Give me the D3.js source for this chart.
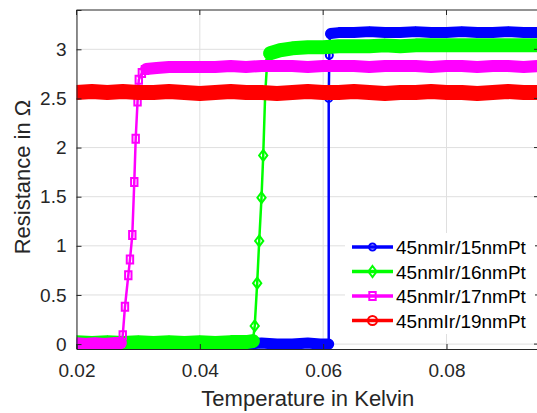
<!DOCTYPE html>
<html>
<head>
<meta charset="utf-8">
<script src="https://cdn.jsdelivr.net/npm/d3@7"></script>
<style>
  html, body { margin: 0; padding: 0; background: #fff; }
  svg { display: block; font-family: "Liberation Sans", Arial, Helvetica, sans-serif; }
</style>
</head>
<body>
<svg id="chart" width="537" height="413"></svg>
<script>
// Axis ticks
const tempTicks = [0.02, 0.04, 0.06, 0.08];
const resTicks = [0, 0.5, 1, 1.5, 2, 2.5, 3];

// Sample names (legend order)
const sampleNames = ["45nmIr/15nmPt", "45nmIr/16nmPt", "45nmIr/17nmPt", "45nmIr/19nmPt"];

// 45nmIr/15nmPt : superconducting branch, transition, normal branch  [T (K), R (Ohm)]
const ir15Low = [[0.020,0.00],[0.0225,0.01],[0.025,0.00],[0.0275,0.01],[0.030,0.00],[0.0325,0.00],[0.035,0.01],
  [0.0375,0.00],[0.040,0.00],[0.0425,0.01],[0.045,0.00],[0.0475,0.00],[0.050,0.01],[0.0525,0.00],[0.055,0.00],
  [0.0575,0.01],[0.0595,0.00],[0.0609,0.00]];
const ir15Rise = [[0.0609,0.00],[0.0609,2.50],[0.0610,2.94],[0.0611,3.15]];
const ir15High = [[0.0612,3.16],[0.0625,3.17],[0.065,3.17],[0.0675,3.18],[0.070,3.17],[0.0725,3.17],[0.075,3.18],
  [0.0775,3.17],[0.080,3.17],[0.0825,3.18],[0.085,3.17],[0.0875,3.17],[0.090,3.18],[0.0925,3.17],[0.095,3.17]];

// 45nmIr/16nmPt
const ir16Low = [[0.020,0.02],[0.0225,0.01],[0.025,0.02],[0.0275,0.01],[0.030,0.02],[0.0325,0.01],[0.035,0.02],
  [0.0375,0.01],[0.040,0.02],[0.0425,0.01],[0.045,0.02],[0.0475,0.02],[0.0486,0.03]];
const ir16Rise = [[0.0486,0.03],[0.0489,0.185],[0.0493,0.62],[0.04963,1.05],[0.0500,1.49],[0.05028,1.92],
  [0.0506,2.55],[0.0509,2.85],[0.0512,2.94]];
const ir16High = [[0.0514,2.96],[0.053,2.99],[0.055,3.01],[0.0575,3.02],[0.060,3.02],[0.0625,3.03],[0.065,3.03],
  [0.0675,3.03],[0.070,3.04],[0.0725,3.03],[0.075,3.04],[0.0775,3.04],[0.080,3.04],[0.0825,3.04],[0.085,3.04],
  [0.0875,3.04],[0.090,3.04],[0.0925,3.04],[0.095,3.04]];

// 45nmIr/17nmPt
const ir17Low = [[0.020,0.01],[0.0215,0.00],[0.023,0.01],[0.0245,0.00],[0.026,0.01],[0.0272,0.01]];
const ir17Rise = [[0.0272,0.01],[0.0275,0.09],[0.02786,0.38],[0.0284,0.70],[0.02867,0.86],[0.02905,1.11],
  [0.02937,1.65],[0.0296,2.09],[0.0299,2.47],[0.0301,2.69],[0.0306,2.76],[0.0311,2.79]];
const ir17High = [[0.0313,2.80],[0.033,2.81],[0.035,2.82],[0.0375,2.82],[0.040,2.82],[0.0425,2.82],[0.045,2.83],
  [0.0475,2.82],[0.050,2.83],[0.0525,2.83],[0.055,2.83],[0.0575,2.82],[0.060,2.83],[0.0625,2.83],[0.065,2.83],
  [0.0675,2.82],[0.070,2.83],[0.0725,2.83],[0.075,2.83],[0.0775,2.82],[0.080,2.83],[0.0825,2.83],[0.085,2.82],
  [0.0875,2.83],[0.090,2.83],[0.0925,2.82],[0.095,2.83]];

// 45nmIr/19nmPt : stays normal over the whole range
const ir19Low = [];
const ir19Rise = [];
const ir19High = [[0.020,2.56],[0.0225,2.57],[0.025,2.56],[0.0275,2.57],[0.030,2.56],[0.0325,2.56],[0.035,2.57],
  [0.0375,2.56],[0.040,2.55],[0.0425,2.56],[0.045,2.57],[0.0475,2.56],[0.050,2.56],[0.0525,2.55],[0.055,2.56],
  [0.0575,2.57],[0.060,2.56],[0.0625,2.56],[0.065,2.57],[0.0675,2.56],[0.070,2.55],[0.0725,2.56],[0.075,2.56],
  [0.0775,2.57],[0.080,2.56],[0.0825,2.56],[0.085,2.55],[0.0875,2.56],[0.090,2.57],[0.0925,2.56],[0.095,2.56]];

const colors = ["#0000ff", "#00ff00", "#ff00ff", "#ff0000"];
const markers = ["circle", "diamond", "square", "circle"];
const bandWidth = [11, 14, 12, 15];
const markerSize = [7, 11, 8, 9];

const series = [
  { low: ir15Low, rise: ir15Rise, high: ir15High },
  { low: ir16Low, rise: ir16Rise, high: ir16High },
  { low: ir17Low, rise: ir17Rise, high: ir17High },
  { low: ir19Low, rise: ir19Rise, high: ir19High }
].map((s, i) => ({ ...s, name: sampleNames[i], color: colors[i], marker: markers[i],
                   band: bandWidth[i], msize: markerSize[i] }));

const svg = d3.select("#chart");
const margin = { left: 76.5, top: 10, right: 539, bottom: 349 };

const x = d3.scaleLinear().domain([0.02, 0.095]).range([margin.left, margin.right]);
const y = d3.scaleLinear().domain([-0.05, 3.4]).range([margin.bottom, margin.top]);

const axisColor = "#262626";
const gridColor = "#dfdfdf";

const defs = svg.append("defs");
defs.append("clipPath").attr("id", "plotClip")
  .append("rect").attr("x", margin.left).attr("y", margin.top)
  .attr("width", margin.right - margin.left).attr("height", margin.bottom - margin.top);

// grid
const grid = svg.append("g");
grid.selectAll("line.gx").data(tempTicks).join("line")
  .attr("x1", d => x(d)).attr("x2", d => x(d))
  .attr("y1", margin.top).attr("y2", margin.bottom)
  .attr("stroke", gridColor).attr("stroke-width", 1);
grid.selectAll("line.gy").data(resTicks).join("line")
  .attr("x1", margin.left).attr("x2", margin.right)
  .attr("y1", d => y(d)).attr("y2", d => y(d))
  .attr("stroke", gridColor).attr("stroke-width", 1);

// marker shapes
function markerPath(type, size) {
  const h = size / 2;
  if (type === "diamond") return `M0,${-h}L${h * 0.75},0L0,${h}L${-h * 0.75},0Z`;
  if (type === "square") return `M${-h * 0.8},${-h}H${h * 0.8}V${h}H${-h * 0.8}Z`;
  return d3.arc()({ innerRadius: 0, outerRadius: h, startAngle: 0, endAngle: 2 * Math.PI });
}

const line = d3.line().x(d => x(d[0])).y(d => y(d[1]));
const plot = svg.append("g").attr("clip-path", "url(#plotClip)");

series.forEach(s => {
  const g = plot.append("g");
  // densely sampled branches form a thick band
  [s.low, s.high].filter(a => a.length).forEach(arr => {
    g.append("path").attr("d", line(arr))
      .attr("fill", "none").attr("stroke", s.color)
      .attr("stroke-width", s.band).attr("stroke-linejoin", "round").attr("stroke-linecap", "round");
  });
  // transition
  if (s.rise.length) {
    g.append("path").attr("d", line(s.rise))
      .attr("fill", "none").attr("stroke", s.color).attr("stroke-width", 2.5)
      .attr("stroke-linejoin", "round");
    g.selectAll("path.mk").data(s.rise).join("path")
      .attr("transform", d => `translate(${x(d[0])},${y(d[1])})`)
      .attr("d", markerPath(s.marker, s.msize))
      .attr("fill", "none").attr("stroke", s.color).attr("stroke-width", 2);
  }
});

// axes box with inward ticks
const xAxis = d3.axisBottom(x).tickValues(tempTicks).tickSize(-5).tickPadding(15)
  .tickFormat(d3.format(".2f"));
const yAxis = d3.axisLeft(y).tickValues(resTicks).tickSize(-5).tickPadding(10)
  .tickFormat(d => d3.format("")(d));

const gx = svg.append("g").attr("transform", `translate(0,${margin.bottom})`).call(xAxis);
const gy = svg.append("g").attr("transform", `translate(${margin.left},0)`).call(yAxis);
[gx, gy].forEach(g => {
  g.select(".domain").attr("stroke", axisColor).attr("stroke-width", 1);
  g.selectAll(".tick line").attr("stroke", axisColor);
  g.selectAll(".tick text").attr("fill", axisColor).style("font-size", "19px")
    .style("font-family", "'Liberation Sans', Arial, sans-serif");
});
// top and right edges
svg.append("line").attr("x1", margin.left).attr("x2", margin.right)
  .attr("y1", margin.top).attr("y2", margin.top).attr("stroke", axisColor);
svg.selectAll("line.tt").data(tempTicks).join("line")
  .attr("x1", d => x(d)).attr("x2", d => x(d)).attr("y1", margin.top).attr("y2", margin.top + 5)
  .attr("stroke", axisColor);
svg.selectAll("line.rt").data(resTicks).join("line")
  .attr("x1", margin.right - 5).attr("x2", margin.right).attr("y1", d => y(d)).attr("y2", d => y(d))
  .attr("stroke", axisColor);

// axis titles
svg.append("text").attr("x", x(0.0575)).attr("y", 406)
  .attr("text-anchor", "middle").attr("fill", axisColor).style("font-size", "22px")
  .text("Temperature in Kelvin");
svg.append("text").attr("transform", `translate(30,${y(1.7)}) rotate(-90)`)
  .attr("text-anchor", "middle").attr("fill", axisColor).style("font-size", "22px")
  .text("Resistance in Ω");

// legend
const legend = svg.append("g").attr("transform", "translate(345,233)");
legend.append("rect").attr("x", 0).attr("y", 0).attr("width", 190).attr("height", 101).attr("fill", "#fff");
series.forEach((s, i) => {
  const row = legend.append("g").attr("transform", `translate(0,${14 + i * 24.5})`);
  row.append("line").attr("x1", 7).attr("x2", 48).attr("y1", 0).attr("y2", 0)
    .attr("stroke", s.color).attr("stroke-width", 3.5);
  row.append("path").attr("transform", "translate(27.5,0)")
    .attr("d", markerPath(s.marker, s.msize))
    .attr("fill", "none").attr("stroke", s.color).attr("stroke-width", 2);
  row.append("text").attr("x", 51).attr("y", 7).attr("fill", "#000").style("font-size", "19px")
    .text(s.name);
});
</script>
</body>
</html>
